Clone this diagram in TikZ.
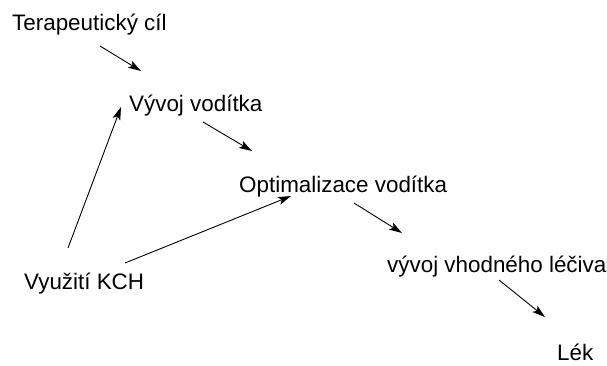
\documentclass[tikz,border=0pt]{standalone}
\usepackage{fontspec}
\setmainfont{Liberation Sans}
\usetikzlibrary{arrows.meta}
\begin{document}
\begin{tikzpicture}[x=1pt,y=-1pt,
  lbl/.style={anchor=base west,inner sep=0pt,font=\fontsize{22.4}{26}\selectfont},
  conn/.style={line width=0.9pt,-{Stealth[length=13pt,width=8pt,inset=3pt]}}]
\useasboundingbox (0,0) rectangle (607,365);
\node[lbl] (t) at (12,30) {Terapeutický cíl};
\node[lbl] (v) at (129,111) {Vývoj vodítka};
\node[lbl] (o) at (239,192) {Optimalizace vodítka};
\node[lbl] (k) at (24,289) {Využití KCH};
\node[lbl] (h) at (387,272) {vývoj vhodného léčiva};
\node[lbl] (l) at (557,360) {Lék};
\coordinate (t1) at (100,46);  \coordinate (v1) at (141,71);
\coordinate (v2) at (203,122); \coordinate (o1) at (252,151);
\coordinate (k1) at (68,248);  \coordinate (v3) at (121,107);
\coordinate (k2) at (125,263); \coordinate (o2) at (291,196);
\coordinate (o3) at (354,203); \coordinate (h1) at (402,233);
\coordinate (h2) at (499,280); \coordinate (l1) at (545,317);
\draw[conn] (t1) -- (v1);
\draw[conn] (v2) -- (o1);
\draw[conn] (k1) -- (v3);
\draw[conn] (k2) -- (o2);
\draw[conn] (o3) -- (h1);
\draw[conn] (h2) -- (l1);
\end{tikzpicture}
\end{document}
